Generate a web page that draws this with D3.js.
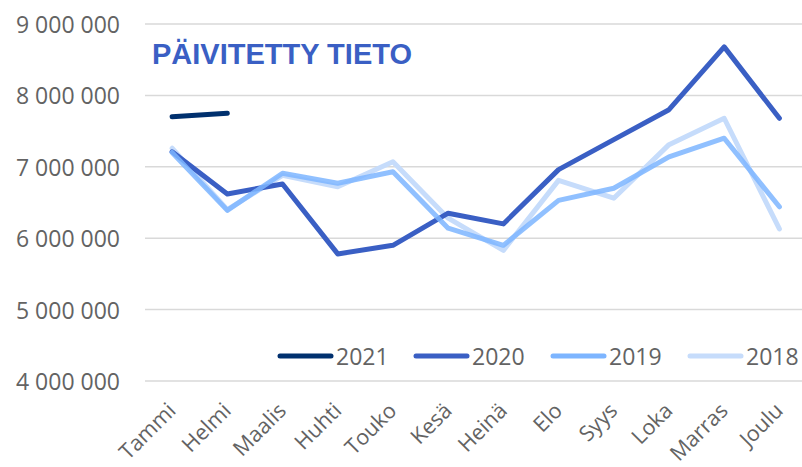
<!DOCTYPE html>
<html>
<head>
<meta charset="utf-8">
<script src="https://cdn.jsdelivr.net/npm/d3@7"></script>
<style>
  body { margin: 0; background: #fff; }
  svg { display: block; }
</style>
</head>
<body>
<svg id="chart" width="802" height="467"></svg>
<script>
const months = ["Tammi", "Helmi", "Maalis", "Huhti", "Touko", "Kesä", "Heinä", "Elo", "Syys", "Loka", "Marras", "Joulu"];
const yTicks = [4000000, 5000000, 6000000, 7000000, 8000000, 9000000];

const v2021 = [7700000, 7750000];
const v2020 = [7210000, 6620000, 6760000, 5780000, 5900000, 6350000, 6200000, 6960000, 7380000, 7800000, 8680000, 7680000];
const v2019 = [7200000, 6390000, 6910000, 6770000, 6930000, 6140000, 5900000, 6530000, 6700000, 7140000, 7400000, 6440000];
const v2018 = [7260000, 6400000, 6880000, 6720000, 7070000, 6280000, 5830000, 6810000, 6560000, 7310000, 7680000, 6130000];

const series = [
  { name: "2021", values: v2021, color: "#00306e" },
  { name: "2020", values: v2020, color: "#3a5fc4" },
  { name: "2019", values: v2019, color: "#7db5ff" },
  { name: "2018", values: v2018, color: "#c6dcfb" }
];

const svg = d3.select("#chart");
const font = "'Open Sans', sans-serif";

const x = d3.scaleBand().domain(months).range([144.5, 807]);
const y = d3.scaleLinear().domain([4000000, 9000000]).range([381, 24]);

const fmt = v => d3.format(",")(v).replace(/,/g, " ");

// gridlines
svg.append("g")
  .selectAll("line")
  .data(yTicks)
  .join("line")
  .attr("x1", 145)
  .attr("x2", 802)
  .attr("y1", d => y(d))
  .attr("y2", d => y(d))
  .style("stroke", "#d9d9d9")
  .style("stroke-width", 1.5);

// y tick labels
svg.append("g")
  .selectAll("text")
  .data(yTicks)
  .join("text")
  .attr("x", 120)
  .attr("y", d => y(d))
  .attr("text-anchor", "end")
  .attr("dominant-baseline", "central")
  .style("font-family", font)
  .style("font-size", "23px")
  .style("fill", "#636363")
  .text(fmt);

// x labels, rotated
svg.append("g")
  .selectAll("text")
  .data(months)
  .join("text")
  .attr("transform", d => `translate(${x(d) + x.bandwidth() / 2 + 5},${412}) rotate(-45)`)
  .attr("text-anchor", "end")
  .style("font-family", font)
  .style("font-size", "21.5px")
  .style("fill", "#636363")
  .text(d => d);

// lines
const line = d3.line()
  .x((d, i) => x(months[i]) + x.bandwidth() / 2)
  .y(d => y(d));

const drawOrder = ["2018", "2020", "2019", "2021"];
drawOrder.forEach(name => {
  const s = series.find(t => t.name === name);
  svg.append("path")
    .datum(s.values)
    .attr("d", line)
    .style("fill", "none")
    .style("stroke", s.color)
    .style("stroke-width", 5)
    .style("stroke-linejoin", "round")
    .style("stroke-linecap", "round")
    .style("opacity", name === "2019" ? 0.85 : 1);
});

// title
svg.append("text")
  .attr("x", 152)
  .attr("y", 64)
  .style("font-family", "'Liberation Sans', Arial, sans-serif")
  .style("font-weight", "bold")
  .style("font-size", "29px")
  .style("fill", "#3a5fc4")
  .text("PÄIVITETTY TIETO");

// legend
const legendX = [278, 414, 551, 688];
const legend = svg.append("g");
series.forEach((s, i) => {
  legend.append("line")
    .attr("x1", legendX[i] + 2)
    .attr("x2", legendX[i] + 53)
    .attr("y1", 356)
    .attr("y2", 356)
    .style("stroke", s.color)
    .style("stroke-width", 5)
    .style("stroke-linecap", "round");
  legend.append("text")
    .attr("x", legendX[i] + 58)
    .attr("y", 356)
    .attr("dominant-baseline", "central")
    .style("font-family", font)
    .style("font-size", "23px")
    .style("fill", "#636363")
    .text(s.name);
});
</script>
</body>
</html>
